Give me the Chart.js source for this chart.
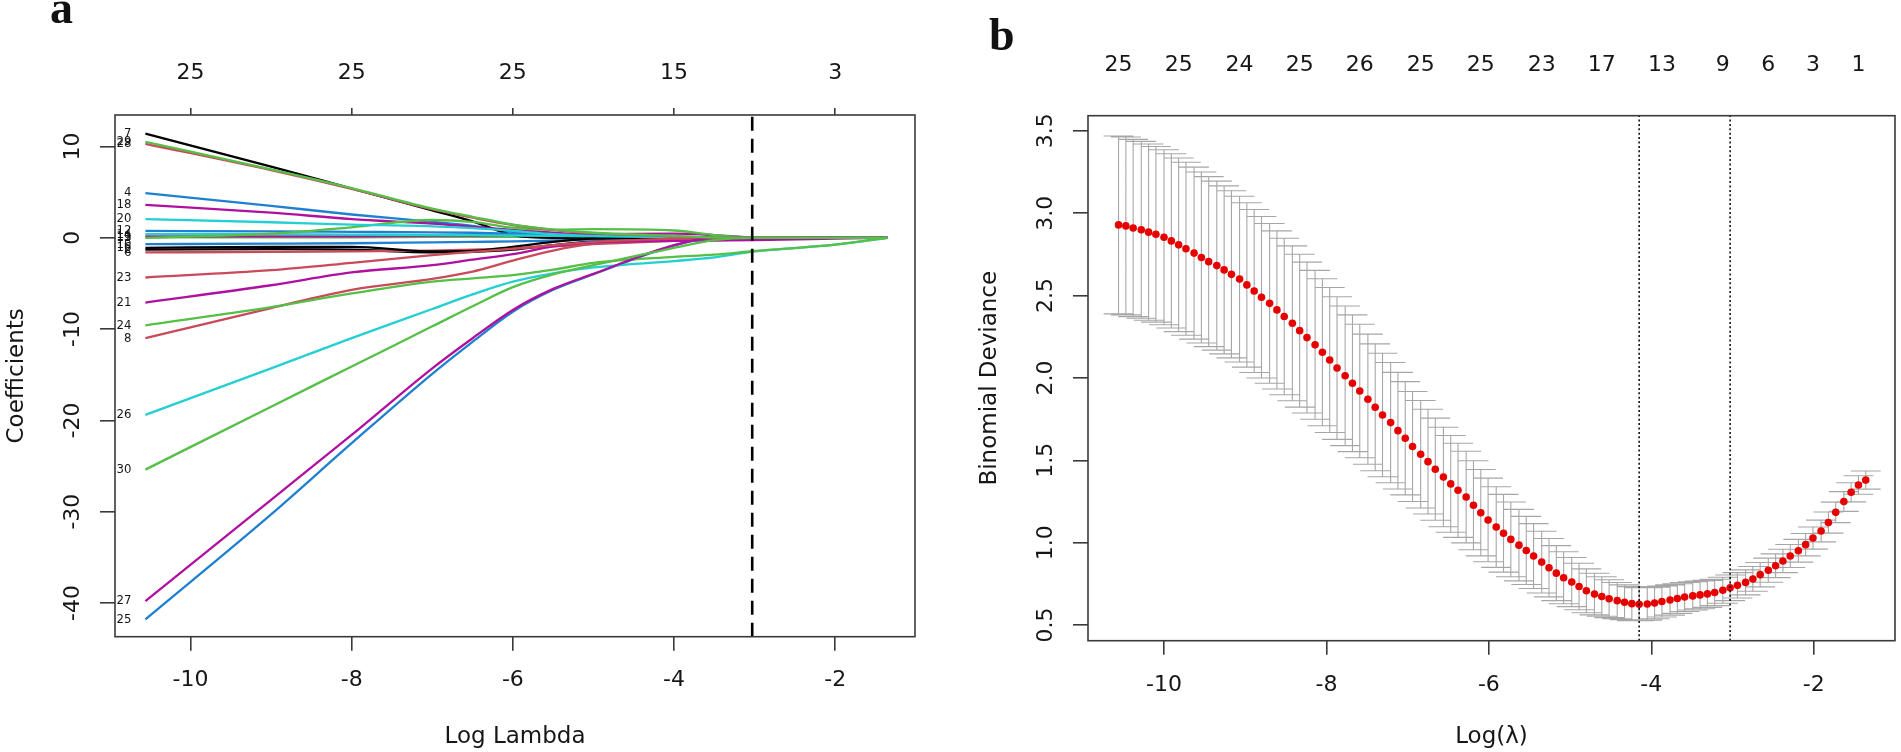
<!DOCTYPE html>
<html lang="en">
<head>
<meta charset="UTF-8">
<title>LASSO coefficient paths and cross-validated deviance</title>
<script src="https://cdn.jsdelivr.net/npm/chart.js"></script>
<style>
  html, body { margin: 0; padding: 0; background: #fff; }
  body { width: 1901px; height: 752px; position: relative; overflow: hidden; }
  .panel { position: absolute; top: 0; height: 752px; }
  #boxA { left: 0; width: 960px; }
  #boxB { left: 960px; width: 941px; }
  .tag { position: absolute; z-index: 2; font-family: "Liberation Serif", serif; font-weight: bold;
         font-size: 46px; line-height: 46px; color: #111; }
</style>
</head>
<body>
<div class="panel" id="boxA"><canvas id="coefChart"></canvas></div>
<div class="panel" id="boxB"><canvas id="cvChart"></canvas></div>
<div class="tag" style="left:50px; top:-15px;">a</div>
<div class="tag" style="left:989px; top:12px;">b</div>

<script>
// ---------- panel a : coefficient paths ----------
const knots = [-10.56, -9, -8, -7, -6.5, -6, -5.5, -5, -4, -3.5, -3, -2, -1.35];

const v30 = [-25.4, -18.5, -14.1, -9.7, -7.5, -5.4, -4.0, -3.0, -1.1, -0.25, 0, 0, 0];
const v29 = [10.5, 7.5, 5.45, 3.2, 2.3, 1.45, 0.9, 0.55, 0.2, 0.05, 0, 0, 0];
const v28 = [10.3, 7.4, 5.35, 3.1, 2.2, 1.4, 0.85, 0.5, 0.15, 0.03, 0, 0, 0];
const v27 = [-39.8, -28.7, -21.6, -14.3, -11.0, -7.9, -5.6, -3.95, -0.8, 0, 0, 0, 0];
const v26 = [-19.4, -14.3, -11.0, -7.8, -6.2, -4.8, -3.9, -3.25, -2.55, -2.15, -1.5, -0.75, 0];
const v25 = [-41.8, -30.3, -22.5, -14.9, -11.4, -8.1, -5.7, -4.0, -0.85, 0, 0, 0, 0];
const v24 = [-9.6, -7.6, -6.1, -4.8, -4.45, -4.1, -3.5, -2.75, -2.1, -1.85, -1.45, -0.75, 0];
const v23 = [-4.35, -3.55, -2.75, -1.9, -1.55, -1.2, -0.8, -0.45, -0.1, 0, 0, 0, 0];
const v21 = [-7.1, -5.2, -3.8, -3.0, -2.4, -1.8, -0.95, -0.5, -0.35, -0.3, -0.25, -0.1, 0];
const v20 = [2.05, 1.7, 1.45, 1.25, 1.05, 0.75, 0.4, 0.2, 0.05, 0, 0, 0, 0];
const v19 = [0.0, 0.45, 1.15, 1.95, 1.75, 1.1, 0.88, 0.95, 0.8, 0.3, 0.03, 0, 0];
const v18 = [3.6, 2.75, 2.05, 1.55, 1.2, 0.85, 0.55, 0.3, 0.1, 0, 0, 0, 0];
const v16 = [-1.1, -1.0, -1.0, -1.5, -1.45, -1.0, -0.45, -0.1, 0, 0, 0, 0, 0];
const v14 = [0.4, 0.4, 0.35, 0.3, 0.3, 0.25, 0.2, 0.15, 0.05, 0, 0, 0, 0];
const v12 = [0.75, 0.7, 0.65, 0.6, 0.55, 0.45, 0.35, 0.25, 0.1, 0.05, 0, 0, 0];
const v11 = [0.15, 0.15, 0.15, 0.2, 0.25, 0.3, 0.35, 0.4, 0.45, 0.3, 0.05, 0, 0];
const v10 = [-0.7, -0.65, -0.6, -0.5, -0.45, -0.4, -0.3, -0.2, -0.05, 0, 0, 0, 0];
const v8  = [-11.0, -7.7, -5.7, -4.5, -3.7, -2.5, -1.4, -0.65, -0.1, 0, 0, 0, 0];
const v7  = [11.4, 7.8, 5.4, 3.0, 1.8, 0.3, 0, 0, 0, 0, 0, 0, 0];
const v6  = [-1.6, -1.55, -1.5, -1.4, -1.3, -1.15, -0.95, -0.7, -0.35, -0.2, -0.05, 0, 0];
const v4  = [4.9, 3.5, 2.55, 1.75, 1.3, 0.65, 0.3, 0.15, 0.05, 0, 0, 0, 0];
const v3  = [0.05, 0.05, 0.05, 0.1, 0.1, 0.1, 0.1, 0.05, 0, 0, 0, 0, 0];
const v2  = [-1.3, -1.25, -1.3, -1.6, -1.55, -1.3, -0.8, -0.4, -0.05, 0, 0, 0, 0];

// first entry is drawn on top
const varNames = ['30','29','28','27','24','26','25','23','21','20','19','18','16','14','12','11','10','8','7','6','4','3','2'];
const varPaths = [v30, v29, v28, v27, v24, v26, v25, v23, v21, v20, v19, v18, v16, v14, v12, v11, v10, v8, v7, v6, v4, v3, v2];

const xTicks = [-10, -8, -6, -4, -2];
const dfTop = ['25', '25', '25', '15', '3'];
const yTicksA = [-40, -30, -20, -10, 0, 10];
const xRangeA = [-10.937, -1.01];
const yRangeA = [-43.7, 13.45];

// ---------- panel b : cross-validated binomial deviance ----------
const logLambda = [
  -10.56, -10.47, -10.38, -10.28, -10.19, -10.10, -10.00, -9.91, -9.82, -9.73,
  -9.63, -9.54, -9.45, -9.35, -9.26, -9.17, -9.07, -8.98, -8.89, -8.80,
  -8.70, -8.61, -8.52, -8.42, -8.33, -8.24, -8.14, -8.05, -7.96, -7.87,
  -7.77, -7.68, -7.59, -7.49, -7.40, -7.31, -7.21, -7.12, -7.03, -6.94,
  -6.84, -6.75, -6.66, -6.56, -6.47, -6.38, -6.28, -6.19, -6.10, -6.01,
  -5.91, -5.82, -5.73, -5.63, -5.54, -5.45, -5.35, -5.26, -5.17, -5.08,
  -4.98, -4.89, -4.80, -4.70, -4.61, -4.52, -4.42, -4.33, -4.24, -4.15,
  -4.05, -3.96, -3.87, -3.77, -3.68, -3.59, -3.49, -3.40, -3.31, -3.22,
  -3.12, -3.03, -2.94, -2.84, -2.75, -2.66, -2.56, -2.47, -2.38, -2.29,
  -2.19, -2.10, -2.01, -1.91, -1.82, -1.73, -1.63, -1.54, -1.45, -1.36
];
const cvMean = [
  2.929, 2.923, 2.910, 2.899, 2.885, 2.872, 2.854, 2.832, 2.808, 2.784,
  2.758, 2.731, 2.706, 2.682, 2.656, 2.629, 2.600, 2.565, 2.528, 2.490,
  2.453, 2.413, 2.373, 2.332, 2.287, 2.245, 2.201, 2.156, 2.109, 2.060,
  2.013, 1.968, 1.921, 1.871, 1.822, 1.775, 1.729, 1.680, 1.634, 1.584,
  1.537, 1.492, 1.446, 1.399, 1.357, 1.318, 1.277, 1.227, 1.182, 1.138,
  1.095, 1.057, 1.020, 0.985, 0.953, 0.919, 0.882, 0.848, 0.815, 0.787,
  0.761, 0.734, 0.708, 0.688, 0.673, 0.660, 0.648, 0.638, 0.630, 0.626,
  0.628, 0.634, 0.643, 0.652, 0.661, 0.670, 0.677, 0.683, 0.689, 0.698,
  0.711, 0.726, 0.741, 0.759, 0.780, 0.806, 0.833, 0.860, 0.889, 0.919,
  0.951, 0.988, 1.028, 1.071, 1.122, 1.184, 1.250, 1.306, 1.350, 1.380
];
const cvSD = [
  0.540, 0.540, 0.538, 0.537, 0.535, 0.533, 0.531, 0.529, 0.527, 0.525,
  0.522, 0.519, 0.516, 0.513, 0.510, 0.507, 0.503, 0.499, 0.495, 0.490,
  0.485, 0.480, 0.475, 0.470, 0.464, 0.458, 0.452, 0.446, 0.440, 0.433,
  0.424, 0.415, 0.405, 0.395, 0.385, 0.375, 0.365, 0.354, 0.344, 0.334,
  0.326, 0.318, 0.310, 0.302, 0.294, 0.286, 0.278, 0.270, 0.262, 0.254,
  0.245, 0.236, 0.227, 0.217, 0.207, 0.197, 0.187, 0.177, 0.167, 0.158,
  0.149, 0.141, 0.133, 0.126, 0.120, 0.115, 0.110, 0.106, 0.103, 0.100,
  0.098, 0.096, 0.094, 0.092, 0.090, 0.088, 0.086, 0.084, 0.082, 0.080,
  0.079, 0.078, 0.077, 0.076, 0.075, 0.074, 0.073, 0.072, 0.071, 0.070,
  0.069, 0.068, 0.067, 0.066, 0.064, 0.062, 0.060, 0.058, 0.056, 0.055
];
const nzIdx = [0, 8, 16, 24, 32, 40, 48, 56, 64, 72, 80, 86, 92, 98];
const nzLabels = ['25', '25', '24', '25', '26', '25', '25', '23', '17', '13', '9', '6', '3', '1'];
const lambdaMinIdx = 69;
const lambda1seIdx = 81;
const yTicksB = [0.5, 1.0, 1.5, 2.0, 2.5, 3.0, 3.5];
const xRangeB = [-10.936, -1.0];
const yRangeB = [0.405, 3.592];

// ---------- styles ----------
const ink = '#161616';
const axisInk = '#3a3a3a';
const fontTick = { family: 'DejaVu Sans', size: 22 };
const fontTitle = { family: 'DejaVu Sans', size: 23 };
const rCol = { black: '#000000', red: '#C94A5A', green: '#55BF47', blue: '#1F80D2', cyan: '#23CFD2', magenta: '#B0109F' };
const lineColors = {
  '30': rCol.green, '29': rCol.green, '28': rCol.red, '27': rCol.magenta, '26': rCol.cyan, '25': rCol.blue,
  '24': rCol.green, '23': rCol.red, '21': rCol.magenta, '20': rCol.cyan, '19': rCol.green, '18': rCol.magenta,
  '16': rCol.black, '14': rCol.cyan, '12': rCol.blue, '11': rCol.magenta, '10': rCol.blue, '8': rCol.red,
  '7': rCol.black, '6': rCol.red, '4': rCol.blue, '3': rCol.green, '2': rCol.black
};

Chart.defaults.font.family = 'DejaVu Sans';
Chart.defaults.color = ink;

function fixedTicks(values) {
  return scale => { scale.ticks = values.map(v => ({ value: v })); };
}

// y tick labels written parallel to the axis, as R does
function rotatedYLabels(gap, fmt) {
  return {
    id: 'rotatedYLabels',
    afterDraw(chart) {
      const y = chart.scales.y, ctx = chart.ctx;
      const cx = chart.chartArea.left - gap;
      ctx.save();
      ctx.font = fontTick.size + 'px "' + fontTick.family + '"';
      ctx.fillStyle = ink;
      ctx.textAlign = 'center';
      ctx.textBaseline = 'middle';
      y.ticks.forEach(t => {
        ctx.save();
        ctx.translate(cx, y.getPixelForValue(t.value));
        ctx.rotate(-Math.PI / 2);
        ctx.fillText(fmt(t.value), 0, 0);
        ctx.restore();
      });
      ctx.restore();
    }
  };
}

const frame = {
  id: 'frame',
  afterDraw(chart) {
    const { left, top, right, bottom } = chart.chartArea;
    const ctx = chart.ctx;
    ctx.save();
    ctx.strokeStyle = axisInk;
    ctx.lineWidth = 1.6;
    ctx.strokeRect(left, top, right - left, bottom - top);
    ctx.restore();
  }
};

const pathLabels = {
  id: 'pathLabels',
  afterDatasetsDraw(chart) {
    const x = chart.scales.x, y = chart.scales.y, ctx = chart.ctx;
    ctx.save();
    ctx.font = '13px "DejaVu Sans Condensed", "Liberation Sans Narrow", "Liberation Sans", sans-serif';
    ctx.fillStyle = ink;
    ctx.textAlign = 'right';
    ctx.textBaseline = 'middle';
    const px = x.getPixelForValue(knots[0]) - 14;
    varNames.forEach((n, i) => ctx.fillText(n, px, y.getPixelForValue(varPaths[i][0])));
    ctx.restore();
  }
};

function vline(xv, yr, opts) {
  return Object.assign({
    data: [{ x: xv, y: yr[0] }, { x: xv, y: yr[1] }],
    pointRadius: 0, fill: false, clip: 0, tension: 0
  }, opts);
}

// ---------- chart a ----------
const coefSets = varPaths.map((vals, i) => ({
  data: knots.map((k, j) => ({ x: k, y: vals[j] })),
  borderColor: lineColors[varNames[i]],
  borderWidth: 2.3,
  pointRadius: 0,
  fill: false,
  cubicInterpolationMode: 'monotone',
  clip: 0,
  order: 1
}));
coefSets.push(vline(logLambda[lambda1seIdx], yRangeA,
  { borderColor: '#000', borderWidth: 2.6, borderDash: [14, 8], order: 0 }));

new Chart(document.getElementById('coefChart'), {
  type: 'line',
  data: { datasets: coefSets },
  options: {
    responsive: true,
    maintainAspectRatio: false,
    animation: false,
    layout: { padding: { left: 0, top: 0, right: 45, bottom: 0 } },
    plugins: { legend: { display: false }, tooltip: { enabled: false } },
    scales: {
      x: {
        type: 'linear', position: 'bottom', min: xRangeA[0], max: xRangeA[1],
        afterBuildTicks: fixedTicks(xTicks),
        afterFit: s => { s.height = 115.3; },
        border: { display: false },
        grid: { drawOnChartArea: false, tickLength: 14, color: axisInk, lineWidth: 1.6 },
        ticks: { font: fontTick, color: ink, padding: 16, maxRotation: 0, autoSkip: false },
        title: { display: true, text: 'Log Lambda', font: fontTitle, color: ink, padding: { top: 0, bottom: 1.5 } }
      },
      xTop: {
        type: 'linear', position: 'top', min: xRangeA[0], max: xRangeA[1],
        afterBuildTicks: fixedTicks(xTicks),
        afterFit: s => { s.height = 115; },
        border: { display: false },
        grid: { drawOnChartArea: false, tickLength: 7, color: axisInk, lineWidth: 1.6 },
        ticks: { font: fontTick, color: ink, padding: 21.8, maxRotation: 0, autoSkip: false,
                 callback: (v, i) => dfTop[i] }
      },
      y: {
        type: 'linear', position: 'left', min: yRangeA[0], max: yRangeA[1],
        afterBuildTicks: fixedTicks(yTicksA),
        afterFit: s => { s.width = 115; },
        border: { display: false },
        grid: { drawOnChartArea: false, tickLength: 15, color: axisInk, lineWidth: 1.6 },
        ticks: { display: false },
        title: { display: true, text: 'Coefficients', font: fontTitle, color: ink, padding: { top: 3.2, bottom: 0 } }
      }
    }
  },
  plugins: [frame, pathLabels, rotatedYLabels(42, v => String(v))]
});

// ---------- chart b ----------
const capHalf = 0.02 * (logLambda[logLambda.length - 1] - logLambda[0]);
const barPts = [];
logLambda.forEach((x, i) => {
  const up = cvMean[i] + cvSD[i], lo = cvMean[i] - cvSD[i];
  barPts.push({ x: x, y: up }, { x: x, y: lo }, { x: x, y: null });
  barPts.push({ x: x - capHalf, y: up }, { x: x + capHalf, y: up }, { x: x, y: null });
  barPts.push({ x: x - capHalf, y: lo }, { x: x + capHalf, y: lo }, { x: x, y: null });
});

new Chart(document.getElementById('cvChart'), {
  type: 'line',
  data: {
    datasets: [
      { data: barPts, borderColor: '#A6A6A6', borderWidth: 1.1, pointRadius: 0, spanGaps: false,
        fill: false, tension: 0, clip: 0, order: 2 },
      { type: 'scatter', data: logLambda.map((x, i) => ({ x: x, y: cvMean[i] })),
        pointRadius: 3.8, pointBackgroundColor: '#E60000', pointBorderWidth: 0, order: 1 },
      vline(logLambda[lambdaMinIdx], yRangeB, { borderColor: '#111', borderWidth: 1.6, borderDash: [2, 2.4], order: 0 }),
      vline(logLambda[lambda1seIdx], yRangeB, { borderColor: '#111', borderWidth: 1.6, borderDash: [2, 2.4], order: 0 })
    ]
  },
  options: {
    responsive: true,
    maintainAspectRatio: false,
    animation: false,
    layout: { padding: { left: 0, top: 0, right: 6, bottom: 0 } },
    plugins: { legend: { display: false }, tooltip: { enabled: false } },
    scales: {
      x: {
        type: 'linear', position: 'bottom', min: xRangeB[0], max: xRangeB[1],
        afterBuildTicks: fixedTicks(xTicks),
        afterFit: s => { s.height = 111.3; },
        border: { display: false },
        grid: { drawOnChartArea: false, tickLength: 14, color: axisInk, lineWidth: 1.6 },
        ticks: { font: fontTick, color: ink, padding: 17, maxRotation: 0, autoSkip: false },
        title: { display: true, text: 'Log(λ)', font: fontTitle, color: ink, padding: { top: 0, bottom: 1.2 } }
      },
      xTop: {
        type: 'linear', position: 'top', min: xRangeB[0], max: xRangeB[1],
        afterBuildTicks: fixedTicks(nzIdx.map(i => logLambda[i])),
        afterFit: s => { s.height = 115.7; },
        border: { display: false },
        grid: { display: false },
        ticks: { font: fontTick, color: ink, padding: 29.5, maxRotation: 0, autoSkip: false,
                 callback: (v, i) => nzLabels[i] }
      },
      y: {
        type: 'linear', position: 'left', min: yRangeB[0], max: yRangeB[1],
        afterBuildTicks: fixedTicks(yTicksB),
        afterFit: s => { s.width = 128; },
        border: { display: false },
        grid: { drawOnChartArea: false, tickLength: 15, color: axisInk, lineWidth: 1.6 },
        ticks: { display: false },
        title: { display: true, text: 'Binomial Deviance', font: fontTitle, color: ink, padding: { top: 16.2, bottom: 0 } }
      }
    }
  },
  plugins: [frame, rotatedYLabels(42, v => v.toFixed(1))]
});
</script>
</body>
</html>
